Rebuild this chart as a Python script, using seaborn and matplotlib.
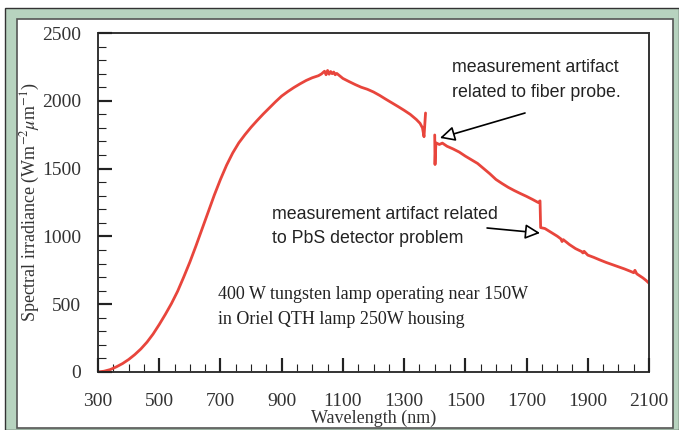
import numpy as np
import pandas as pd
import matplotlib
matplotlib.use("Agg")
import matplotlib.pyplot as plt
from matplotlib.patches import Rectangle
import seaborn as sns

# ---- data ----
wl_a = [300, 320, 340, 360, 380, 400, 420, 440, 460, 480, 500, 520, 540, 560, 580,
        600, 620, 640, 660, 680, 700, 720, 740, 760, 780, 800, 820, 840, 860, 880,
        900, 920, 940, 960, 980, 1000, 1020, 1030, 1040, 1045, 1050, 1055, 1060,
        1065, 1070, 1075, 1080, 1100, 1120, 1140, 1160, 1180, 1200, 1220, 1240,
        1260, 1280, 1300, 1320, 1340, 1352, 1360, 1365, 1370]
irr_a = [0, 6, 18, 38, 62, 92, 128, 170, 220, 280, 350, 425, 505, 595, 700,
         810, 930, 1055, 1180, 1305, 1420, 1525, 1615, 1690, 1750, 1805, 1855,
         1903, 1948, 1993, 2035, 2068, 2098, 2125, 2150, 2170, 2185, 2198, 2218,
         2192, 2224, 2196, 2216, 2200, 2212, 2192, 2202, 2165, 2142, 2120, 2100,
         2085, 2065, 2040, 2012, 1985, 1958, 1930, 1900, 1862, 1834, 1800, 1735,
         1910]

wl_b = [1400, 1401, 1402, 1404, 1415, 1425, 1440, 1460, 1480, 1500, 1520, 1540,
        1560, 1580, 1600, 1620, 1640, 1660, 1680, 1700, 1720, 1738, 1744, 1746,
        1760, 1780, 1800, 1812, 1816, 1820, 1840, 1860, 1880, 1884, 1888, 1900,
        1920, 1940, 1960, 1980, 2000, 2020, 2040, 2050, 2054, 2060, 2080, 2090,
        2100]
irr_b = [1748, 1530, 1600, 1690, 1678, 1688, 1665, 1645, 1622, 1592, 1565, 1538,
         1500, 1462, 1420, 1390, 1362, 1338, 1316, 1295, 1272, 1250, 1262, 1065,
         1058, 1030, 1002, 982, 962, 976, 940, 910, 888, 878, 890, 862, 845, 826,
         808, 792, 776, 760, 742, 732, 750, 724, 694, 676, 655]

df = pd.DataFrame({
    "wavelength": wl_a + wl_b,
    "irradiance": irr_a + irr_b,
    "segment": ["a"] * len(wl_a) + ["b"] * len(wl_b),
})

x_major = list(range(300, 2101, 200))
y_major = list(range(0, 2501, 500))
x_minor = list(range(300, 2101, 50))
y_minor = list(range(0, 2501, 100))

# ---- style ----
sns.set_style("ticks")
plt.rcParams["font.family"] = ["Liberation Serif", "DejaVu Serif"]
plt.rcParams["mathtext.fontset"] = "stix"
plt.rcParams.update({
    "xtick.direction": "in", "ytick.direction": "in",
    "xtick.bottom": True, "xtick.top": False,
    "ytick.left": True, "ytick.right": False,
    "xtick.major.size": 10, "ytick.major.size": 10,
    "xtick.minor.size": 6, "ytick.minor.size": 6,
    "xtick.major.width": 1.5, "ytick.major.width": 1.5,
    "xtick.minor.width": 0.8, "ytick.minor.width": 0.8,
    "xtick.major.pad": 15, "ytick.major.pad": 12,
    "xtick.labelsize": 14, "ytick.labelsize": 14,
    "xtick.color": "#222222", "ytick.color": "#222222",
    "xtick.labelcolor": "#333333", "ytick.labelcolor": "#333333",
    "axes.edgecolor": "#333333", "axes.linewidth": 1.4,
})

W, H = 679, 430
fig = plt.figure(figsize=(W / 100, H / 100), dpi=100)
fig.patch.set_facecolor("white")

def fx(px):
    return px / W

def fy(py):
    return 1 - py / H

# decorative frame
fig.patches.append(Rectangle((fx(5), 0), fx(679) - fx(5), fy(8), transform=fig.transFigure,
                             facecolor="#b7d3bf", edgecolor="#333333", linewidth=1.0,
                             zorder=-20))
fig.patches.append(Rectangle((fx(17), fy(428)), fx(673) - fx(17), fy(19) - fy(428),
                             transform=fig.transFigure, facecolor="white",
                             edgecolor="#555555", linewidth=1.2, zorder=-10))

ax_left, ax_bottom = fx(98), fy(372)
ax_w, ax_h = fx(649) - fx(98), fy(33) - fy(372)
ax = fig.add_axes([ax_left, ax_bottom, ax_w, ax_h])

sns.lineplot(data=df, x="wavelength", y="irradiance", units="segment", estimator=None,
             sort=False, color="#e8453c", linewidth=2.0, ax=ax, legend=False)

ax.set_xlim(300, 2100)
ax.set_ylim(0, 2500)
ax.set_xticks(x_major)
ax.set_yticks(y_major)
ax.set_xticks([v for v in x_minor if v not in x_major], minor=True)
ax.set_yticks([v for v in y_minor if v not in y_major], minor=True)

# long inward major tick marks, drawn at the tick positions in axis coordinates
tick_px = 14
ax.vlines(x_major, 0, tick_px / (ax_h * H), transform=ax.get_xaxis_transform(),
          colors="#222222", linewidth=1.5, zorder=6, clip_on=False)
ax.hlines(y_major, 0, tick_px / (ax_w * W), transform=ax.get_yaxis_transform(),
          colors="#222222", linewidth=1.5, zorder=6, clip_on=False)

ax.set_xlabel("Wavelength (nm)", fontsize=13, color="#333333", labelpad=0)
ax.set_ylabel(r"Spectral irradiance (Wm$^{-2}\mu$m$^{-1}$)", fontsize=13,
              color="#333333", labelpad=0)

sans = ["Liberation Sans", "DejaVu Sans"]
notes = [
    (452, 72, "measurement artifact", sans, 12.8),
    (452, 97, "related to fiber probe.", sans, 12.8),
    (272, 219, "measurement artifact related", sans, 12.8),
    (272, 243, "to PbS detector problem", sans, 12.8),
    (218, 299, "400 W tungsten lamp operating near 150W", ["Liberation Serif"], 13),
    (218, 324, "in Oriel QTH lamp 250W housing", ["Liberation Serif"], 13),
]
for px, py, txt, fam, fs in notes:
    fig.text(fx(px), fy(py), txt, fontsize=fs, family=fam, color="#222222",
             va="baseline", ha="left")

arrow = dict(arrowstyle="-|>,head_length=0.9,head_width=0.45", facecolor="white",
             edgecolor="black", linewidth=1.2, shrinkA=0, shrinkB=0)
ax.annotate("", xy=(1417, 1726), xytext=(1695, 1910), arrowprops=arrow)
ax.annotate("", xy=(1744, 1025), xytext=(1571, 1062), arrowprops=arrow)

fig.savefig("out.png", dpi=100, facecolor="white")
